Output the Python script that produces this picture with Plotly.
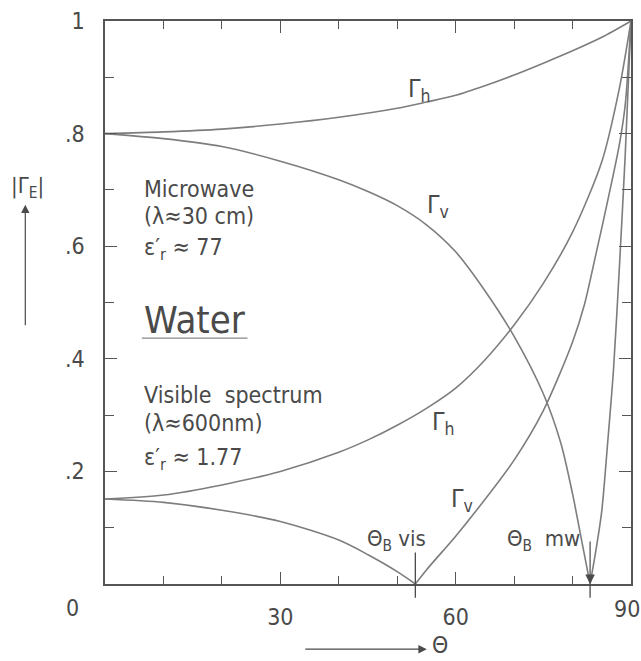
import plotly.graph_objects as go

# Reflection coefficient magnitudes of a water surface versus incidence angle
# Microwave (eps_r ~ 77), horizontal polarisation
theta_mw_h = [0, 10, 20, 30, 40, 50, 55, 60, 65, 70, 75, 80, 85, 90]
gamma_mw_h = [0.800, 0.803, 0.808, 0.817, 0.829, 0.845, 0.856, 0.868, 0.885, 0.904,
              0.925, 0.947, 0.971, 1.000]

# Microwave, vertical polarisation (dips to zero at the Brewster angle)
theta_mw_v = [0, 10, 20, 30, 40, 45, 50, 55, 60, 65, 70, 75, 78, 80, 81.5, 83,
              84, 85, 86, 87, 88, 89, 90]
gamma_mw_v = [0.800, 0.791, 0.777, 0.751, 0.718, 0.697, 0.672, 0.638, 0.590, 0.521,
              0.440, 0.338, 0.250, 0.160, 0.080, 0.000,
              0.060, 0.130, 0.250, 0.380, 0.560, 0.760, 1.000]

# Visible spectrum (eps_r ~ 1.77), horizontal polarisation
theta_vis_h = [0, 10, 20, 30, 40, 45, 50, 55, 60, 65, 70, 75, 80, 85, 88, 90]
gamma_vis_h = [0.151, 0.158, 0.176, 0.200, 0.234, 0.256, 0.282, 0.312, 0.348, 0.398,
               0.460, 0.534, 0.625, 0.750, 0.880, 1.000]

# Visible spectrum, vertical polarisation
theta_vis_v = [0, 10, 20, 30, 40, 45, 50, 53.1, 55, 60, 65, 70, 75, 80, 82, 84, 86,
               88, 89, 90]
gamma_vis_v = [0.151, 0.145, 0.131, 0.111, 0.078, 0.052, 0.022, 0.000, 0.025, 0.085,
               0.150, 0.220, 0.308, 0.430, 0.495, 0.586, 0.680, 0.780, 0.850, 1.000]

# Brewster angles
brewster_vis = 53.1
brewster_mw = 83.0

x_ticks = [30, 60, 90]
y_ticks = [0.2, 0.4, 0.6, 0.8, 1.0]
y_tick_text = [".2", ".4", ".6", ".8", "1"]

W, H = 641, 661
ML, MR, MT, MB = 105, 8, 14, 77
PW, PH = W - ML - MR, H - MT - MB

FONT = "DejaVu Sans Condensed, Liberation Sans Narrow, DejaVu Sans"
INK = "#4a4a4a"
CURVE = "#7d7d7d"
FRAME = "#555555"


def px(x):
    return (x - ML) / PW


def py(y):
    return (H - MB - y) / PH


fig = go.Figure()


def add_curve(xs, ys):
    # split at the zero (Brewster) so each branch is smoothed on its own
    if 0.0 in ys:
        k = ys.index(0.0)
        parts = [(xs[:k + 1], ys[:k + 1]), (xs[k:], ys[k:])]
    else:
        parts = [(xs, ys)]
    for a, b in parts:
        fig.add_trace(go.Scatter(
            x=a, y=b, mode="lines",
            line=dict(color=CURVE, width=1.6, shape="spline", smoothing=0.8),
            hoverinfo="skip", showlegend=False))


add_curve(theta_mw_h, gamma_mw_h)
add_curve(theta_mw_v, gamma_mw_v)
add_curve(theta_vis_h, gamma_vis_h)
add_curve(theta_vis_v, gamma_vis_v)

ann = []


def text(x, y, s, size=23, xanchor="center", yanchor="middle"):
    ann.append(dict(x=px(x), y=py(y), xref="paper", yref="paper", text=s,
                    showarrow=False, xanchor=xanchor, yanchor=yanchor,
                    font=dict(family=FONT, size=size, color=INK)))


def arrow(x, y, dx, dy, xref="paper", yref="paper", size=1.4):
    ann.append(dict(x=x, y=y, xref=xref, yref=yref, ax=dx, ay=dy,
                    axref="pixel", ayref="pixel", showarrow=True, arrowhead=2,
                    arrowsize=size, arrowwidth=1.2, arrowcolor=INK, text=""))


# curve labels
text(421, 84, "Γ<sub>h</sub>", 25)
text(439, 201, "Γ<sub>v</sub>", 25)
text(445, 421, "Γ<sub>h</sub>", 25)
text(463, 499, "Γ<sub>v</sub>", 25)

# medium descriptions
text(142, 184, "Microwave", 23, xanchor="left")
text(142, 211, "(λ≈30 cm)", 23, xanchor="left")
text(142, 245, "ε′<sub>r</sub> ≈ 77", 23, xanchor="left")
text(195, 317, "Water", 38)
text(142, 393, "Visible  spectrum", 23, xanchor="left")
text(142, 421, "(λ≈600nm)", 23, xanchor="left")
text(142, 457, "ε′<sub>r</sub> ≈ 1.77", 23, xanchor="left")

# Brewster angle labels
text(366, 540, "Θ<sub>B</sub> vis", 22, xanchor="left")
text(507, 540, "Θ<sub>B</sub>  mw", 22, xanchor="left")

# origin label, right-hand x label and axis titles
text(72, 608, "0", 23)
text(629, 609, "90", 23)
text(27, 183, "|Γ<sub>E</sub>|", 22)
text(441, 646, "Θ", 23)

# axis arrows
arrow(px(25), py(200), 0, 122)
arrow(px(428), py(650), -123, 0)

# arrow marking the microwave Brewster angle
arrow(brewster_mw, 0, 0, -44, xref="x", yref="y", size=1.6)

shapes = [
    # marker line through the visible Brewster angle
    dict(type="line", xref="paper", yref="paper",
         x0=brewster_vis / 90, x1=brewster_vis / 90, y0=py(552), y1=py(598),
         line=dict(color=INK, width=1.3)),
    dict(type="line", xref="paper", yref="paper",
         x0=brewster_mw / 90, x1=brewster_mw / 90, y0=py(584), y1=py(598),
         line=dict(color=INK, width=1.3)),
    # underline of the title
    dict(type="line", xref="paper", yref="paper",
         x0=px(142), x1=px(248), y0=py(335), y1=py(335),
         line=dict(color="#888888", width=1.3)),
]

axis_common = dict(
    showgrid=False, zeroline=False, showline=True, mirror="ticks",
    linecolor=FRAME, linewidth=1.5,
    ticks="inside", ticklen=12, tickwidth=1.2, tickcolor=FRAME,
    tickfont=dict(family=FONT, size=23, color=INK),
)

fig.update_layout(
    width=W, height=H,
    margin=dict(l=ML, r=MR, t=MT, b=MB),
    paper_bgcolor="white", plot_bgcolor="white",
    xaxis=dict(range=[0, 90], tickvals=x_ticks, ticktext=["30", "60", ""],
               ticklabelstandoff=12,
               minor=dict(dtick=10, tick0=0, ticks="inside", ticklen=8,
                          tickwidth=1.1, tickcolor=FRAME),
               **axis_common),
    yaxis=dict(range=[0, 1], tickvals=y_ticks, ticktext=y_tick_text,
               ticklabelstandoff=14,
               minor=dict(dtick=0.1, tick0=0, ticks="inside", ticklen=9,
                          tickwidth=1.1, tickcolor=FRAME),
               **axis_common),
    annotations=ann,
    shapes=shapes,
)

fig.write_html("out.html")
